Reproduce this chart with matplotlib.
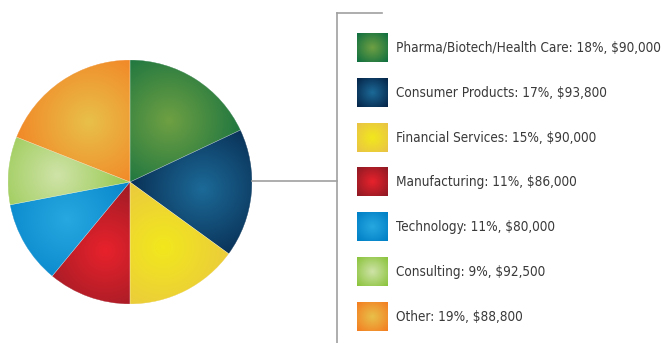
import numpy as np
import matplotlib
matplotlib.use("Agg")
import matplotlib.pyplot as plt
from matplotlib import font_manager
from matplotlib.font_manager import FontProperties
from matplotlib.patches import Wedge
from matplotlib.colors import to_rgb

# ---- data ----
categories = ["Pharma/Biotech/Health Care", "Consumer Products", "Financial Services",
              "Manufacturing", "Technology", "Consulting", "Other"]
shares = [18, 17, 15, 11, 11, 9, 19]
salaries = ["$90,000", "$93,800", "$90,000", "$86,000", "$80,000", "$92,500", "$88,800"]

# highlight (centre) and rim colours of each radial gradient
center_colors = ["#6fa043", "#1c6a98", "#f2e81c", "#e8222c", "#28a8e0", "#cfe3a8", "#e8c04a"]
edge_colors = ["#127040", "#06264a", "#e9c445", "#901a24", "#0080c6", "#8cc43e", "#f38022"]

W, H, DPI = 665, 343, 100


def _is_narrow(f):
    st = f.stretch
    if isinstance(st, (int, float)):
        narrow = st < 500
    else:
        narrow = "condensed" in str(st)
    narrow = narrow or "Condensed" in f.name or "Narrow" in f.name
    w = f.weight if isinstance(f.weight, int) else {"normal": 400, "regular": 400, "book": 400}.get(str(f.weight), 700)
    return narrow and f.style == "normal" and 350 <= w <= 450


# a condensed face if installed, otherwise Roboto
narrow_faces = [f for f in font_manager.fontManager.ttflist if _is_narrow(f)]
if narrow_faces:
    fp = FontProperties(fname=narrow_faces[0].fname)
else:
    fp = FontProperties(family=["Roboto", "DejaVu Sans"])

fig = plt.figure(figsize=(W / DPI, H / DPI), dpi=DPI)
fig.patch.set_facecolor("white")


def px_box(x0, y0, x1, y1):
    """Figure-fraction rect from pixel coords (top-left origin)."""
    return [x0 / W, 1 - y1 / H, (x1 - x0) / W, (y1 - y0) / H]


def radial(c_in, c_out, n=200, cx=0.0, cy=0.0, span=1.0, ext=(-1, 1, -1, 1)):
    xs = np.linspace(ext[0], ext[1], n)
    ys = np.linspace(ext[2], ext[3], n)
    X, Y = np.meshgrid(xs, ys)
    d = np.clip(np.hypot(X - cx, Y - cy) / span, 0, 1)
    a, b = np.array(to_rgb(c_in)), np.array(to_rgb(c_out))
    return a[None, None, :] * (1 - d[..., None]) + b[None, None, :] * d[..., None]


# ---- pie ----
cx_px, cy_px, r_px = 130, 182, 122
pax = fig.add_axes(px_box(cx_px - r_px, cy_px - r_px, cx_px + r_px, cy_px + r_px))
wedges, _ = pax.pie(shares, startangle=90, counterclock=False, radius=1.0,
                    colors=edge_colors, wedgeprops=dict(linewidth=0))
pax.set_xlim(-1, 1)
pax.set_ylim(-1, 1)
pax.set_aspect("equal")
pax.axis("off")

for w, ci, co in zip(wedges, center_colors, edge_colors):
    mid = np.deg2rad((w.theta1 + w.theta2) / 2)
    gx, gy = 0.6 * np.cos(mid), 0.6 * np.sin(mid)
    img = radial(ci, co, n=300, cx=gx, cy=gy, span=0.7)
    im = pax.imshow(img, extent=(-1, 1, -1, 1), origin="lower", zorder=2,
                    interpolation="bilinear")
    im.set_clip_path(w)
    pax.add_patch(Wedge(w.center, w.r, w.theta1, w.theta2,
                        facecolor="none", edgecolor="white",
                        linewidth=0.3, alpha=0.5, zorder=3))

# ---- connector lines & legend ----
oax = fig.add_axes([0, 0, 1, 1])
oax.set_xlim(0, W)
oax.set_ylim(H, 0)
oax.axis("off")
line_c = "#a0a0a0"
oax.plot([cx_px + r_px, 336.5], [181, 181], color=line_c, lw=1.2)
oax.plot([336.5, 336.5], [13, H], color=line_c, lw=1.2)
oax.plot([336.5, 382], [13, 13], color=line_c, lw=1.2)

row_top0, row_gap = 33, 44.8
sq_w, sq_h = 31, 29
labels = []
for i, (cat, sh, sal, ci, co) in enumerate(zip(categories, shares, salaries,
                                                center_colors, edge_colors)):
    top = row_top0 + i * row_gap
    img = radial(ci, co, n=60, span=1.35)
    oax.imshow(img, extent=(357, 357 + sq_w, top + sq_h, top), origin="lower",
               interpolation="bilinear", zorder=2)
    t = oax.text(396, top + sq_h / 2 + 0.5, f"{cat}: {sh}%, {sal}", va="center",
                 ha="left", fontproperties=fp, fontsize=11.5, color="#3a3a3a")
    labels.append(t)

# size the labels so the longest one spans the legend column
renderer = fig.canvas.get_renderer()
widest = max(t.get_window_extent(renderer).width for t in labels)
size = min(12.5, 11.5 * 266.0 / widest)
for t in labels:
    t.set_fontsize(size)

fig.savefig("out.png", dpi=DPI, facecolor="white")
